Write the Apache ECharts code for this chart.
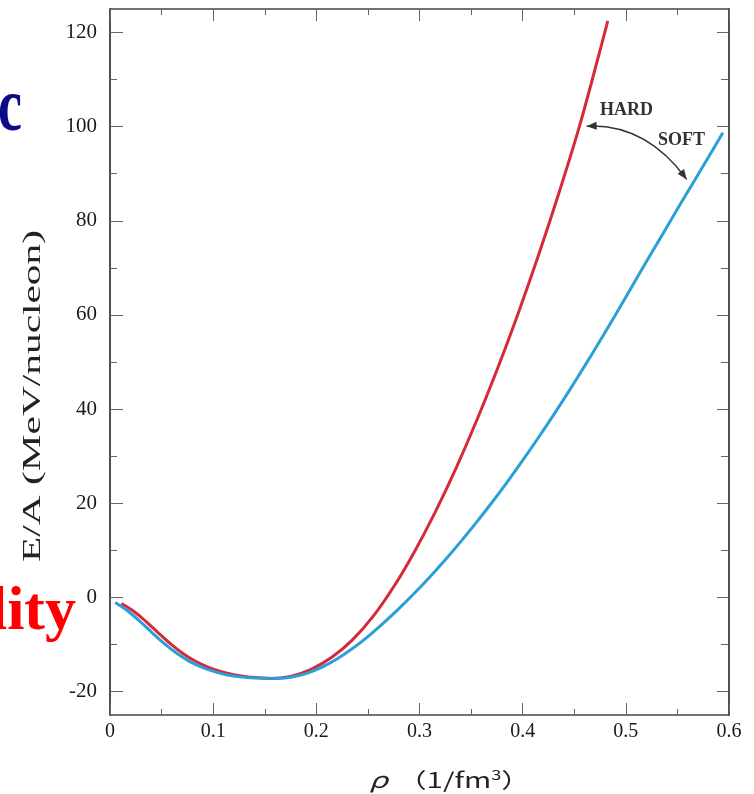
<!DOCTYPE html>
<html><head><meta charset="utf-8">
<script src="https://cdn.jsdelivr.net/npm/echarts@6/dist/echarts.min.js"></script>
<style>html,body{margin:0;padding:0;background:#fff}#c{width:754px;height:794px}</style>
</head><body><div id="c"></div>
<script>
// ---- data ----
const hardRho = [0.011,0.023,0.035,0.047,0.059,0.071,0.083,0.0955,0.108,0.120,0.132,0.144,0.155,0.175,0.195,0.215,0.235,0.255,0.275,0.295,0.315,0.335,0.355,0.375,0.395,0.415,0.435,0.455,0.475,0.4825];
const hardEA  = [-1.3,-2.96,-5.16,-7.6,-9.95,-11.97,-13.59,-14.88,-15.82,-16.44,-16.85,-17.09,-17.25,-16.8,-15.3,-12.75,-9.05,-4.05,2.25,9.65,18.0,27.25,37.35,48.25,59.95,72.45,85.8,100.05,116.2,122.5];
const softRho = [0.005,0.017,0.029,0.041,0.053,0.065,0.077,0.0895,0.102,0.114,0.126,0.140,0.160,0.175,0.190,0.205,0.220,0.235,0.250,0.265,0.280,0.295,0.310,0.325,0.340,0.355,0.370,0.385,0.400,0.415,0.430,0.445,0.460,0.475,0.490,0.505,0.520,0.535,0.550,0.565,0.580,0.594];
const softEA  = [-1.1,-2.85,-5.1,-7.55,-9.9,-11.95,-13.6,-14.9,-15.85,-16.5,-16.9,-17.15,-17.25,-16.99,-16.2,-14.89,-13.09,-10.88,-8.33,-5.49,-2.41,0.87,4.34,8.0,11.84,15.87,20.09,24.5,29.09,33.85,38.78,43.87,49.12,54.51,60.03,65.66,71.36,76.9,82.5,88.0,93.5,98.7];
const yMajorTicks = [-20,0,20,40,60,80,100,120];
const yMinorTicks = [-10,10,30,50,70,90,110];
const seriesNames = ['HARD','SOFT'];
const yTitle = 'E/A (MeV/nucleon)';

// annotation anchors (data coordinates)
const hardLabelAt = [0.5006, 103.4];
const softLabelAt = [0.554, 97.1];
const arrowStart = [0.462, 100.1];
const arrowCtrl  = [0.5195, 100.7];
const arrowEnd   = [0.559, 88.8];

const chart = echarts.init(document.getElementById('c'), null, {renderer:'canvas'});
const serif = '"Liberation Serif","Times New Roman",serif';
const lineStyle = {color:'#444', width:1.5};
const tickStyle = {color:'#666', width:1};

function xAx(pos, showLabel){
  return {type:'value', min:0, max:0.6, interval:0.1, position:pos,
    axisLine:{show:true, onZero:false, lineStyle},
    axisTick:{show:true, inside:true, length:12, lineStyle:tickStyle},
    minorTick:{show:true, splitNumber:2, length:6, lineStyle:tickStyle},
    splitLine:{show:false}, minorSplitLine:{show:false},
    axisLabel:{show:showLabel, fontFamily:serif, fontSize:20, color:'#1a1a1a', margin:7,
      formatter: v => v === 0 ? '0' : v.toFixed(1)}};
}
function yAx(pos, ticks, len, showLabel){
  return {type:'value', min:-25, max:125, position:pos,
    axisLine:{show:true, onZero:false, lineStyle},
    axisTick:{show:true, inside:true, length:len, lineStyle:tickStyle, customValues:ticks},
    splitLine:{show:false},
    axisLabel:{show:showLabel, customValues:ticks, fontFamily:serif, fontSize:21, color:'#1a1a1a', margin:13}};
}

chart.setOption({
  animation:false,
  backgroundColor:'#fff',
  grid:{left:110, right:25, top:9, bottom:79, containLabel:false, outerBoundsMode:'none'},
  xAxis:[xAx('bottom', true), xAx('top', false)],
  yAxis:[yAx('left', yMajorTicks, 13, true), yAx('left', yMinorTicks, 7, false),
         yAx('right', yMajorTicks, 12, false), yAx('right', yMinorTicks, 8, false)],
  series:[
    {name:seriesNames[0], type:'line', xAxisIndex:0, yAxisIndex:0, showSymbol:false, smooth:0.35,
     lineStyle:{color:'#d42a3a', width:3}, data: hardRho.map((r,i)=>[r, hardEA[i]]), z:3},
    {name:seriesNames[1], type:'line', xAxisIndex:0, yAxisIndex:0, showSymbol:false, smooth:0.35,
     lineStyle:{color:'#2aa0d6', width:3}, data: softRho.map((r,i)=>[r, softEA[i]]), z:4}
  ]
});

const px = p => chart.convertToPixel({xAxisIndex:0, yAxisIndex:0}, p);
const P0 = px(arrowStart), C = px(arrowCtrl), P2 = px(arrowEnd);
function head(tip, from){
  const dx = tip[0]-from[0], dy = tip[1]-from[1], L = Math.hypot(dx,dy);
  const ux = dx/L, uy = dy/L, len = 10, hw = 4;
  const bx = tip[0]-ux*len, by = tip[1]-uy*len;
  return [[tip[0],tip[1]],[bx-uy*hw, by+ux*hw],[bx+uy*hw, by-ux*hw]];
}
const mctx = document.createElement('canvas').getContext('2d');
mctx.font = '26px "Liberation Serif"';
const yTitleScale = 332 / mctx.measureText(yTitle).width;

const hl = px(hardLabelAt), sl = px(softLabelAt);
chart.setOption({graphic:[
  {type:'text', x:22, y:110, scaleY:1.4, style:{text:'c', fontFamily:serif, fontWeight:'bold', fontSize:54, fill:'#0b0b8a', align:'right', verticalAlign:'middle'}},
  {type:'text', x:76, y:644, style:{text:'lity', fontFamily:serif, fontWeight:'bold', fontSize:62, fill:'#ff0000', align:'right', verticalAlign:'bottom'}},
  {type:'text', x:33, y:396, rotation:Math.PI/2, scaleX:yTitleScale,
   style:{text:yTitle, fontFamily:'Liberation Serif', fontSize:26, fill:'#222', align:'center', verticalAlign:'middle'}},
  {type:'text', x:369, y:780, scaleX:1.4,
   style:{text:'{r|ρ}  {t|（1/fm}{s|3}{t|）}', align:'left', verticalAlign:'middle',
     rich:{r:{fontFamily:'"Noto Sans CJK JP"', fontSize:22, fontStyle:'italic', fill:'#222'},
           t:{fontFamily:'"Noto Sans CJK JP"', fontSize:21, fill:'#222'},
           s:{fontFamily:'"Noto Sans CJK JP"', fontSize:13, fill:'#222', verticalAlign:'top', padding:[0,0,10,0]}}}},
  {type:'text', x:hl[0], y:hl[1], style:{text:'HARD', fontFamily:serif, fontWeight:'bold', fontSize:18, fill:'#333', align:'center', verticalAlign:'middle'}},
  {type:'text', x:sl[0], y:sl[1], style:{text:'SOFT', fontFamily:serif, fontWeight:'bold', fontSize:18, fill:'#333', align:'center', verticalAlign:'middle'}},
  {type:'bezierCurve', shape:{x1:P0[0], y1:P0[1], cpx1:C[0], cpy1:C[1], x2:P2[0], y2:P2[1]}, style:{stroke:'#333', lineWidth:1.4, fill:null}},
  {type:'polygon', shape:{points:head(P0, C)}, style:{fill:'#333'}},
  {type:'polygon', shape:{points:head(P2, C)}, style:{fill:'#333'}}
]});
</script></body></html>
